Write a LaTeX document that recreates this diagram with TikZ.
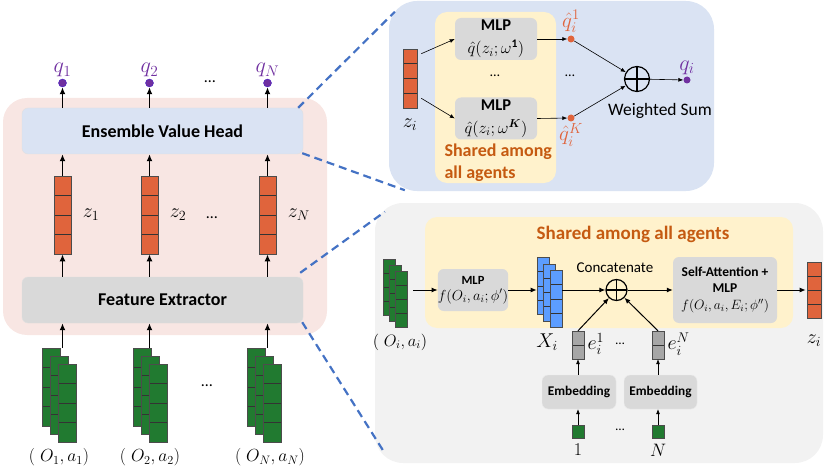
\documentclass[tikz,border=0pt]{standalone}
\usepackage{fix-cm}
\usepackage{fontspec}
\setmainfont{Carlito}
\usepackage{amsmath}
\usepackage{tikz}
\usetikzlibrary{positioning,calc,arrows.meta}
\definecolor{rosa}{HTML}{F8E6E3}
\definecolor{celeste}{HTML}{DAE3F3}
\definecolor{grigio}{HTML}{D9D9D9}
\definecolor{grigino}{HTML}{F2F2F2}
\definecolor{giallo}{HTML}{FFF2CC}
\definecolor{arancio}{HTML}{E0643C}
\definecolor{ocra}{HTML}{C55A11}
\definecolor{viola}{HTML}{7030A0}
\definecolor{verde}{HTML}{217A30}
\definecolor{bluvec}{HTML}{5C9DFF}
\definecolor{grigvec}{HTML}{A6A6A6}
\definecolor{tratteggio}{HTML}{4472C4}

\begin{document}
\begin{tikzpicture}[x=1pt, y=-1pt,
    panel/.style={draw=none, rounded corners=24pt, inner sep=0pt},
    box/.style={rounded corners=6pt, inner sep=0pt, align=center},
    cells/.style={path picture={\foreach \k in {#1}
        \draw[black!80, line width=0.8pt]
          ($(path picture bounding box.north west)!\k!(path picture bounding box.south west)$) --
          ($(path picture bounding box.north east)!\k!(path picture bounding box.south east)$);}},
    vec/.style={draw=black!70, line width=0.6pt, inner sep=0pt, cells={0.25,0.5,0.75}},
    punto/.style={circle, inner sep=0pt, minimum size=#1},
    somma/.style={circle, draw, line width=1.2pt, inner sep=0pt, minimum size=#1,
      path picture={\draw[line width=1.2pt] (path picture bounding box.north) -- (path picture bounding box.south)
        (path picture bounding box.west) -- (path picture bounding box.east);}},
    freccia/.style={-{Latex[length=7pt,width=6pt]}, line width=1.6pt},
    frecciam/.style={-{Latex[length=6pt,width=5pt]}, line width=1pt},
    freccina/.style={-{Latex[length=5pt,width=4pt]}, line width=0.6pt},
    tratto/.style={draw=tratteggio, line width=2.2pt, dash pattern=on 8pt off 5pt},
    var/.style={font=\fontsize{20}{22}\selectfont},
    orange/.style={text=ocra, font=\fontsize{18}{22}\selectfont\bfseries}
  ]
  \useasboundingbox (0,0) rectangle (830,476);

  % pannelli
  \node[panel, fill=rosa, minimum width=324pt, minimum height=237pt] (sx) at (165,216.5) {};
  \node[panel, fill=celeste, rounded corners=28pt, minimum width=325pt, minimum height=190pt] (alto) at (551.5,96) {};
  \node[panel, fill=grigino, rounded corners=28pt, minimum width=448pt, minimum height=260pt] (basso) at (599,333) {};
  \node[panel, fill=giallo, rounded corners=12pt, minimum width=121pt, minimum height=171pt] (condA) at (495.5,97.5) {};
  \node[panel, fill=giallo, rounded corners=12pt, minimum width=368pt, minimum height=111pt] (condB) at (609,272.5) {};

  % lato sinistro
  \node[box, fill=celeste, draw=black!12, minimum width=281pt, minimum height=46pt,
    font=\fontsize{18}{20}\selectfont\bfseries] (head) at (162.5,131) {Ensemble Value Head};
  \node[box, fill=grigio, draw=black!12, minimum width=281pt, minimum height=46pt,
    font=\fontsize{18}{20}\selectfont\bfseries] (fe) at (162.5,300) {Feature Extractor};

  \draw[tratto] ([shift={(-5,0)}]head.north east) -- ([shift={(6,11)}]alto.north west);
  \draw[tratto] ([shift={(-1,-1)}]head.south east) -- ([shift={(16,-1)}]alto.south west);
  \draw[tratto] ([shift={(-3,-4)}]fe.north east) -- ([shift={(10,9)}]basso.north west);
  \draw[tratto] ([shift={(-1,-1)}]fe.south east) -- ([shift={(10,-10)}]basso.south west);

  \node[vec, fill=arancio, minimum width=17pt, minimum height=78pt] (z1) at (62.5,215) {};
  \node[vec, fill=arancio, minimum width=17pt, minimum height=78pt] (z2) at (149.5,215) {};
  \node[vec, fill=arancio, minimum width=17pt, minimum height=78pt] (zN) at (267.5,215) {};
  \node[var, right=8pt of z1] (lz1) {$z_1$};
  \node[var, right=8pt of z2] (lz2) {$z_2$};
  \node[var, right=8pt of zN] (lzN) {$z_N$};
  \node[font=\fontsize{16}{18}\selectfont] (pz) at (212,218) {\dots};

  \node[punto=8pt, fill=viola, draw=viola!60!blue] (q1) at (62.5,83) {};
  \node[punto=8pt, fill=viola, draw=viola!60!blue] (q2) at (149.5,83) {};
  \node[punto=8pt, fill=viola, draw=viola!60!blue] (qN) at (267.5,83) {};
  \node[var, text=viola, font=\fontsize{22}{24}\selectfont, above=-2pt of q1] (lq1) {$q_1$};
  \node[var, text=viola, font=\fontsize{22}{24}\selectfont, above=-2pt of q2] (lq2) {$q_2$};
  \node[var, text=viola, font=\fontsize{22}{24}\selectfont, above=-2pt of qN] (lqN) {$q_N$};
  \node[font=\fontsize{16}{18}\selectfont] (pq) at (210,82) {\dots};

  \node[vec, fill=verde, minimum width=18pt, minimum height=78pt] (o1a) at (51,387) {};
  \node[vec, fill=verde, minimum width=18pt, minimum height=78pt] (o1b) at (59,395) {};
  \node[vec, fill=verde, minimum width=18pt, minimum height=78pt] (o1c) at (67,403) {};
  \node[vec, fill=verde, minimum width=18pt, minimum height=78pt] (o2a) at (142,387) {};
  \node[vec, fill=verde, minimum width=18pt, minimum height=78pt] (o2b) at (150,395) {};
  \node[vec, fill=verde, minimum width=18pt, minimum height=78pt] (o2c) at (158,403) {};
  \node[vec, fill=verde, minimum width=18pt, minimum height=78pt] (oNa) at (256,387) {};
  \node[vec, fill=verde, minimum width=18pt, minimum height=78pt] (oNb) at (264,395) {};
  \node[vec, fill=verde, minimum width=18pt, minimum height=78pt] (oNc) at (272,403) {};
  \node[font=\fontsize{16}{18}\selectfont] (po) at (207,386) {\dots};
  \node[font=\fontsize{17.5}{20}\selectfont] (lo1) at (59,457) {$(\;O_1,a_1)$};
  \node[font=\fontsize{17.5}{20}\selectfont] (lo2) at (150,457) {$(\;O_2,a_2)$};
  \node[font=\fontsize{17.5}{20}\selectfont] (loN) at (270,457) {$(\;O_N,a_N)$};

  \draw[freccia] (z1 |- head.north) -- (q1);
  \draw[freccia] (z2 |- head.north) -- (q2);
  \draw[freccia] (zN |- head.north) -- (qN);
  \draw[freccia] (z1.north) -- (z1 |- head.south);
  \draw[freccia] (z2.north) -- (z2 |- head.south);
  \draw[freccia] (zN.north) -- (zN |- head.south);
  \draw[freccia] (z1 |- fe.north) -- (z1.south);
  \draw[freccia] (z2 |- fe.north) -- (z2.south);
  \draw[freccia] (zN |- fe.north) -- (zN.south);
  \draw[freccia] (z1 |- o1a.north) -- (z1 |- fe.south);
  \draw[freccia] (z2 |- o2a.north) -- (z2 |- fe.south);
  \draw[freccia] (zN |- oNa.north) -- (zN |- fe.south);

  % testa di valore
  \node[vec, fill=arancio, minimum width=14pt, minimum height=59pt] (zi) at (410,78.5) {};
  \node[var] (lzi) at (410,125) {$z_i$};
  \node[box, fill=grigio, minimum width=82pt, minimum height=42pt,
    font=\fontsize{16.5}{20}\selectfont] (mlp1) at (496,39) {\textbf{MLP}\\[3pt]$\hat{q}(z_i;\omega^{\mathbf{1}})$};
  \node[box, fill=grigio, minimum width=82pt, minimum height=42pt,
    font=\fontsize{16.5}{20}\selectfont] (mlpK) at (496,118.5) {\textbf{MLP}\\[3pt]$\hat{q}(z_i;\omega^{\boldsymbol{K}})$};
  \node[font=\fontsize{14}{16}\selectfont] (pm) at (495,76) {\dots};
  \node[punto=7pt, fill=arancio] (qh1) at (571,39) {};
  \node[punto=7pt, fill=arancio] (qhK) at (571,118) {};
  \node[text=arancio, font=\fontsize{21}{23}\selectfont, above=-1pt of qh1] (lqh1) {$\hat{q}_i^1$};
  \node[text=arancio, font=\fontsize{21}{23}\selectfont, below=-2pt of qhK] (lqhK) {$\hat{q}_i^K$};
  \node[font=\fontsize{14}{16}\selectfont] (ph) at (570,76) {\dots};
  \node[somma=25pt] (wsum) at (637,79) {};
  \node[font=\fontsize{17.5}{20}\selectfont] (lws) at (660,111) {Weighted Sum};
  \node[punto=7pt, fill=viola] (qi) at (687,80) {};
  \node[text=viola, font=\fontsize{22}{24}\selectfont, above=-2pt of qi] (lqi) {$q_i$};
  \node[orange, align=left, anchor=west] (shA) at (441,163) {Shared among\\all agents};

  \draw[freccina] ([shift={(4,5)}]zi.north east) -- (mlp1.west);
  \draw[freccina] ([shift={(4,-10)}]zi.south east) -- (mlpK.west);
  \draw[freccina] (mlp1.east) -- (qh1);
  \draw[freccina] (mlpK.east) -- (qhK);
  \draw[freccina] (qh1) -- (wsum);
  \draw[freccina] (qhK) -- (wsum);
  \draw[freccina] (wsum) -- (qi);

  % estrattore di feature
  \node[orange, font=\fontsize{19}{22}\selectfont\bfseries] (shB) at (633,234) {Shared among all agents};
  \node[vec, fill=verde, minimum width=12.5pt, minimum height=56pt] (gi1) at (389.5,287) {};
  \node[vec, fill=verde, minimum width=12.5pt, minimum height=56pt] (gi2) at (395.5,293) {};
  \node[vec, fill=verde, minimum width=12.5pt, minimum height=56pt] (gi3) at (401.5,299) {};
  \node[font=\fontsize{16.5}{19}\selectfont] (lgi) at (400,342) {$(\;O_i,a_i)$};
  \node[box, fill=grigio, minimum width=70pt, minimum height=42pt,
    font=\fontsize{14.5}{16}\selectfont] (mlpf) at (473,290) {\textbf{\fontsize{12.5}{14}\selectfont MLP}\\$f(O_i,a_i;\phi')$};
  \node[vec, fill=bluvec, minimum width=12pt, minimum height=57pt] (xi1) at (543,286) {};
  \node[vec, fill=bluvec, minimum width=12pt, minimum height=57pt] (xi2) at (549.5,292.5) {};
  \node[vec, fill=bluvec, minimum width=12pt, minimum height=57pt] (xi3) at (556,299) {};
  \node[var] (lxi) at (547,342) {$X_i$};
  \node[somma=21pt] (cat) at (616.5,290) {};
  \node[font=\fontsize{15}{17}\selectfont] (lcat) at (615,268) {Concatenate};
  \node[box, fill=grigio, minimum width=104pt, minimum height=66pt,
    font=\fontsize{13.5}{16}\selectfont] (att) at (725,290)
    {\textbf{Self-Attention +}\\\textbf{MLP}\\[1pt]$f(O_i,a_i,E_i;\phi'')$};
  \node[vec, fill=arancio, minimum width=14pt, minimum height=56pt] (zo) at (814,290) {};
  \node[var] (lzo) at (814,341) {$z_i$};

  \node[draw=black!70, fill=grigvec, inner sep=0pt, minimum width=12pt, minimum height=28pt, cells={0.5}] (e1) at (578,345) {};
  \node[draw=black!70, fill=grigvec, inner sep=0pt, minimum width=12pt, minimum height=28pt, cells={0.5}] (eN) at (658,345) {};
  \node[var, anchor=west] (le1) at (584,344) {$e_i^1$};
  \node[var, anchor=west] (leN) at (664,344) {$e_i^N$};
  \node[font=\fontsize{13}{15}\selectfont] (pe) at (620,344) {\dots};
  \node[box, fill=grigio, draw=black!8, minimum width=74pt, minimum height=34pt,
    font=\fontsize{13.3}{15}\selectfont\bfseries] (emb1) at (579,392) {Embedding};
  \node[box, fill=grigio, draw=black!8, minimum width=73pt, minimum height=34pt,
    font=\fontsize{13.3}{15}\selectfont\bfseries] (embN) at (660.5,392) {Embedding};
  \node[draw=black!70, fill=verde, inner sep=0pt, minimum width=12pt, minimum height=13pt] (n1) at (578,431.5) {};
  \node[draw=black!70, fill=verde, inner sep=0pt, minimum width=12pt, minimum height=13pt] (nN) at (658,431.5) {};
  \node[font=\fontsize{18}{20}\selectfont] (ln1) at (578,450) {$1$};
  \node[font=\fontsize{18}{20}\selectfont] (lnN) at (658,450) {$N$};
  \node[font=\fontsize{13}{15}\selectfont] (pn) at (620,430) {\dots};

  \draw[frecciam] ([xshift=5pt]gi3.east |- mlpf.west) -- (mlpf.west);
  \draw[frecciam] (mlpf.east) -- (mlpf.east -| xi1.west);
  \draw[frecciam] (xi3.east |- cat.west) -- (cat.west);
  \draw[frecciam] (cat.east) -- (att.west);
  \draw[frecciam] (att.east) -- ([xshift=-1pt]zo.west);
  \draw[frecciam] (e1.north) -- (cat);
  \draw[frecciam] (eN.north) -- (cat);
  \draw[freccina] (e1 |- emb1.north) -- (e1.south);
  \draw[freccina] (eN |- embN.north) -- (eN.south);
  \draw[freccina] (n1.north) -- (n1 |- emb1.south);
  \draw[freccina] (nN.north) -- (nN |- embN.south);
\end{tikzpicture}
\end{document}
